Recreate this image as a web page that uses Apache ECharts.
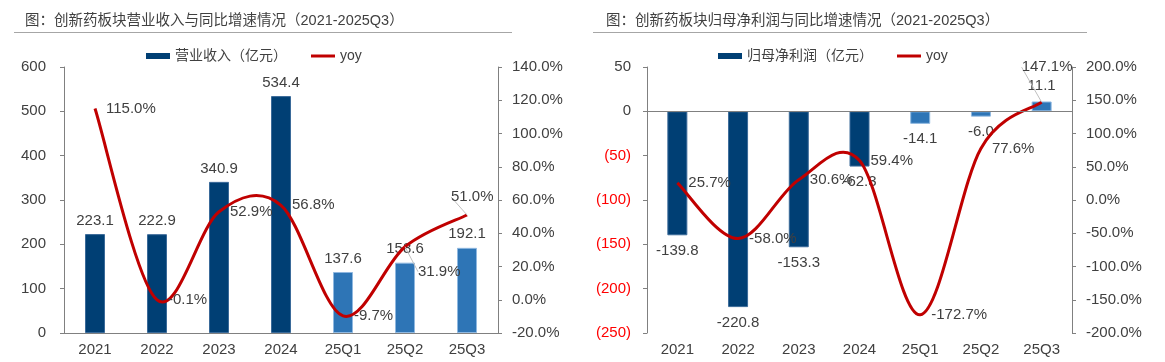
<!DOCTYPE html>
<html><head><meta charset="utf-8">
<script src="https://cdn.jsdelivr.net/npm/echarts@6/dist/echarts.min.js"></script>
<style>html,body{margin:0;padding:0;background:#fff}#c{width:1165px;height:362px}</style>
</head><body><div id="c"></div>
<script>
const categories = ['2021','2022','2023','2024','25Q1','25Q2','25Q3'];
const revenue = [223.1, 222.9, 340.9, 534.4, 137.6, 158.6, 192.1];
const revenueYoy = [115.0, -0.1, 52.9, 56.8, -9.7, 31.9, 51.0];
const profit = [-139.8, -220.8, -153.3, -62.3, -14.1, -6.0, 11.1];
const profitYoy = [25.7, -58.0, 30.6, 59.4, -172.7, 77.6, 147.1];
const title1 = '图：创新药板块营业收入与同比增速情况（2021-2025Q3）';
const title2 = '图：创新药板块归母净利润与同比增速情况（2021-2025Q3）';
const revName = '营业收入（亿元）';
const profName = '归母净利润（亿元）';

const FONT = "'Liberation Sans','Noto Sans CJK SC',sans-serif";
const TXT = '#404040';
const AX = '#808080';
const DARK = '#003f74';
const LIGHT = '#2e75b6';
const RED = '#c00000';
const LINE_ICON = 'path://M0,0L24,0L24,3L0,3Z';

function barData(arr){
  return arr.map((v,i)=>({value:v, itemStyle:{color: i<4?DARK:LIGHT, borderColor: i<4?'#3a6a99':'#8fb8e0', borderWidth:1}}));
}
function yoyData(arr, guided){
  return arr.map((v,i)=> guided.indexOf(i)>=0 ? {value:v, labelLine:{show:true}} : {value:v});
}

// Excel-like Catmull-Rom smoothing drawn through the axis scales (api.coord)
function smoothRender(values){
  return function(params, api){
    if(params.dataIndex !== 0) return null;
    const pts = values.map((v,i)=>api.coord([i, v]));
    let d = 'M' + pts[0][0] + ' ' + pts[0][1];
    for(let i=0;i<pts.length-1;i++){
      const p0 = pts[Math.max(i-1,0)], p1 = pts[i], p2 = pts[i+1], p3 = pts[Math.min(i+2,pts.length-1)];
      const c1 = [p1[0]+(p2[0]-p0[0])/6, p1[1]+(p2[1]-p0[1])/6];
      const c2 = [p2[0]-(p3[0]-p1[0])/6, p2[1]-(p3[1]-p1[1])/6];
      d += ' C' + c1[0]+' '+c1[1]+' '+c2[0]+' '+c2[1]+' '+p2[0]+' '+p2[1];
    }
    return {type:'path', shape:{pathData:d}, style:{stroke:RED, lineWidth:3, fill:null}, silent:true};
  };
}

const chart = echarts.init(document.getElementById('c'), null, {renderer:'canvas'});
const axisLabelBase = {color:TXT, fontSize:15, fontFamily:FONT};

const option = {
  animation:false,
  textStyle:{fontFamily:FONT},
  title:[
    {text:title1, left:20, top:9, textStyle:{fontSize:14.5, fontWeight:'normal', color:TXT, fontFamily:FONT}},
    {text:title2, left:601, top:9, textStyle:{fontSize:14.5, fontWeight:'normal', color:TXT, fontFamily:FONT}}
  ],
  graphic:[
    {type:'line', shape:{x1:14,y1:32.5,x2:512,y2:32.5}, style:{stroke:'#a6a6a6', lineWidth:1}},
    {type:'line', shape:{x1:593,y1:32.5,x2:1087,y2:32.5}, style:{stroke:'#a6a6a6', lineWidth:1}}
  ],
  legend:[
    {left:146, top:49, padding:0, itemWidth:24, itemHeight:6, itemGap:24,
     textStyle:{fontSize:14, color:TXT, fontFamily:FONT},
     data:[{name:revName, icon:'rect'}, {name:'yoy', icon:LINE_ICON}]},
    {left:718, top:49, padding:0, itemWidth:24, itemHeight:6, itemGap:24,
     textStyle:{fontSize:14, color:TXT, fontFamily:FONT},
     data:[{name:profName, icon:'rect'}, {name:'yoy', icon:LINE_ICON}]}
  ],
  grid:[
    {left:64, top:67, width:434, height:266, containLabel:false},
    {left:647, top:67, width:425, height:266, containLabel:false}
  ],
  xAxis:[
    {type:'category', gridIndex:0, data:categories,
     axisLine:{show:true, lineStyle:{color:AX}}, axisTick:{show:false},
     axisLabel:Object.assign({margin:9}, axisLabelBase)},
    {type:'category', gridIndex:1, data:categories, position:'bottom',
     axisLine:{show:false, onZero:false}, axisTick:{show:false},
     axisLabel:Object.assign({margin:9}, axisLabelBase)}
  ],
  yAxis:[
    {type:'value', gridIndex:0, min:0, max:600, interval:100,
     axisLine:{show:true, lineStyle:{color:AX}}, axisTick:{show:true, length:4, lineStyle:{color:AX}},
     splitLine:{show:false}, axisLabel:Object.assign({margin:18}, axisLabelBase)},
    {type:'value', gridIndex:0, position:'right', min:-20, max:140, interval:20,
     axisLine:{show:true, lineStyle:{color:AX}}, axisTick:{show:true, length:4, lineStyle:{color:AX}},
     splitLine:{show:false},
     axisLabel:Object.assign({margin:14, formatter:v=>v.toFixed(1)+'%'}, axisLabelBase)},
    {type:'value', gridIndex:1, min:-250, max:50, interval:50,
     axisLine:{show:true, onZero:false, lineStyle:{color:AX}}, axisTick:{show:true, length:4, lineStyle:{color:AX}},
     splitLine:{show:false},
     axisLabel:Object.assign({}, axisLabelBase, {margin:16,
       formatter:v=> v<0 ? '('+(-v)+')' : String(v),
       color:(v)=> Number(v)<0 ? '#ff0000' : TXT})},
    {type:'value', gridIndex:1, position:'right', min:-200, max:200, interval:50,
     axisLine:{show:true, onZero:false, lineStyle:{color:AX}}, axisTick:{show:true, length:4, lineStyle:{color:AX}},
     splitLine:{show:false},
     axisLabel:Object.assign({margin:14, formatter:v=>v.toFixed(1)+'%'}, axisLabelBase)}
  ],
  series:[
    {name:revName, type:'bar', xAxisIndex:0, yAxisIndex:0, barWidth:20, itemStyle:{color:DARK},
     data:barData(revenue),
     label:{show:true, position:'top', distance:6, color:TXT, fontSize:15, fontFamily:FONT, formatter:p=>p.value.toFixed(1)}},
    {name:'yoy', type:'custom', xAxisIndex:0, yAxisIndex:1, itemStyle:{color:RED},
     data:revenueYoy.map((v,i)=>[i,v]), renderItem:smoothRender(revenueYoy), z:3},
    {name:'yoy', type:'line', xAxisIndex:0, yAxisIndex:1, symbol:'circle', symbolSize:0, showSymbol:true,
     lineStyle:{width:0, opacity:0}, itemStyle:{color:RED}, z:4,
     data:yoyData(revenueYoy, [5,6]),
     label:{show:true, position:'right', distance:11, color:TXT, fontSize:15, fontFamily:FONT, formatter:p=>p.value.toFixed(1)+'%'},
     labelLine:{show:false, lineStyle:{color:'#bfbfbf', width:1}},
     labelLayout:(p)=>{
       if(p.dataIndex===5) return {dy:25, dx:2};
       if(p.dataIndex===6) return {dx:-27, dy:-18};
       return {};
     }},
    {name:profName, type:'bar', xAxisIndex:1, yAxisIndex:2, barWidth:20, itemStyle:{color:DARK},
     data:barData(profit).map(d=>Object.assign(d,{label:{position: d.value<0?'bottom':'top'}})),
     label:{show:true, distance:8, color:TXT, fontSize:15, fontFamily:FONT, formatter:p=>p.value.toFixed(1)},
     markLine:{silent:true, symbol:'none', label:{show:false}, lineStyle:{color:AX, type:'solid', width:1},
       data:[{yAxis:0}]}},
    {name:'yoy', type:'custom', xAxisIndex:1, yAxisIndex:3, itemStyle:{color:RED},
     data:profitYoy.map((v,i)=>[i,v]), renderItem:smoothRender(profitYoy), z:3},
    {name:'yoy', type:'line', xAxisIndex:1, yAxisIndex:3, symbol:'circle', symbolSize:0, showSymbol:true,
     lineStyle:{width:0, opacity:0}, itemStyle:{color:RED}, z:4,
     data:yoyData(profitYoy, [6]),
     label:{show:true, position:'right', distance:11, color:TXT, fontSize:15, fontFamily:FONT, formatter:p=>p.value.toFixed(1)+'%'},
     labelLine:{show:false, lineStyle:{color:'#bfbfbf', width:1}},
     labelLayout:(p)=>{
       if(p.dataIndex===6) return {dx:-31, dy:-35};
       return {};
     }}
  ]
};
chart.setOption(option);
</script></body></html>
